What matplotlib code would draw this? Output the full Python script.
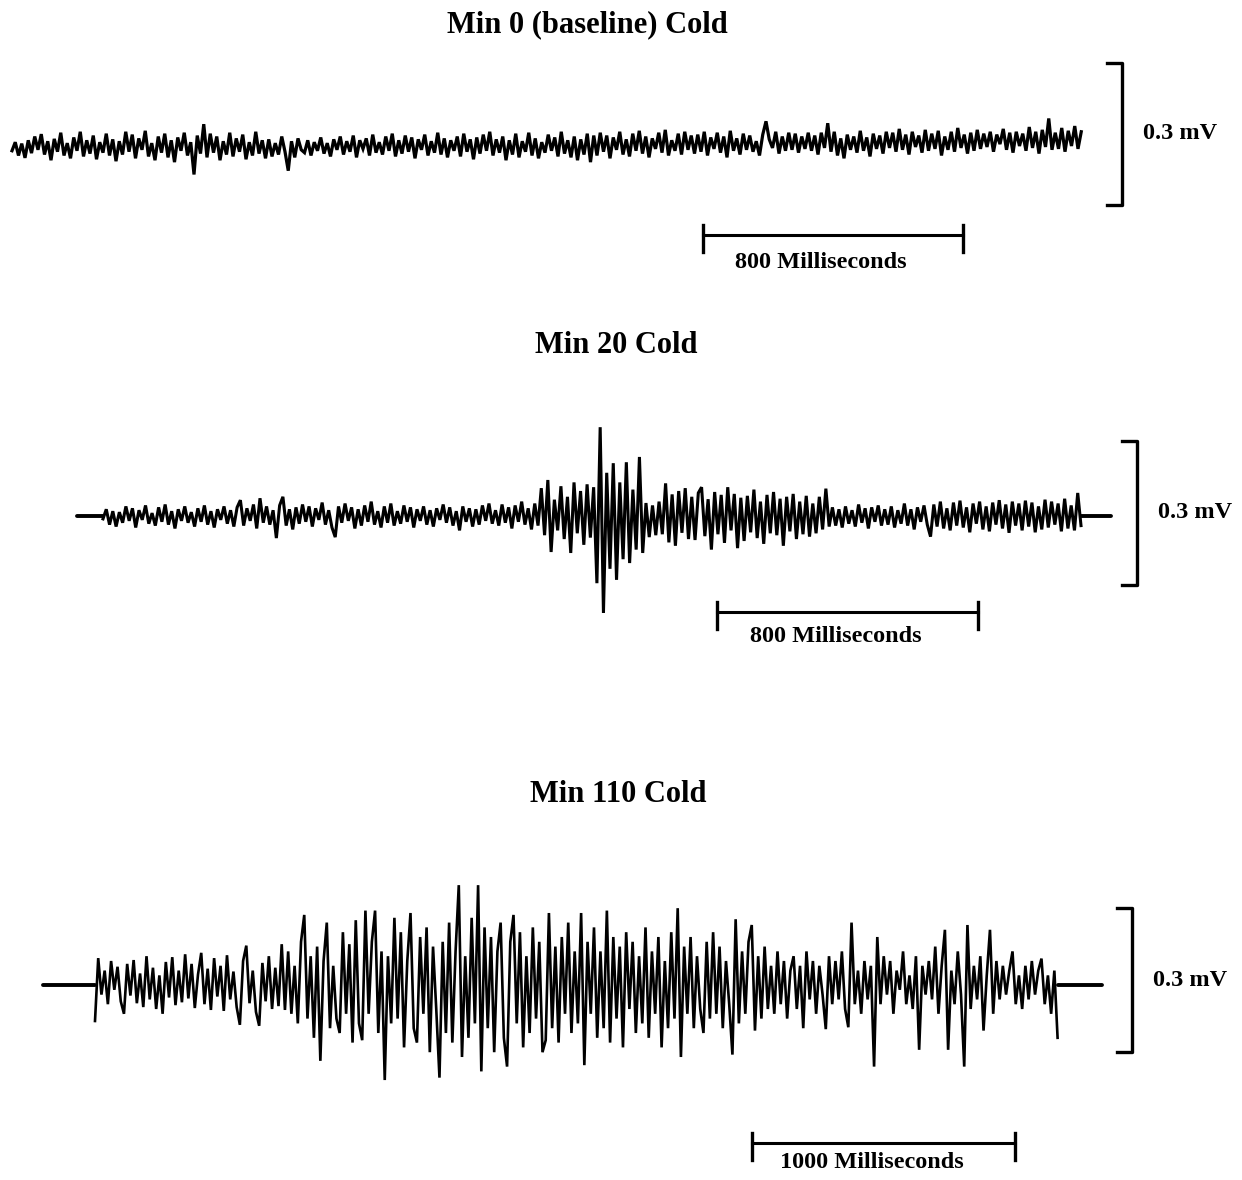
import matplotlib.pyplot as plt
import numpy as np

plt.rcParams['font.family'] = ['Liberation Serif', 'DejaVu Serif']
plt.rcParams['font.weight'] = 'bold'

W, H = 1242, 1180

titles = ['Min 0 (baseline) Cold', 'Min 20 Cold', 'Min 110 Cold']
time_bar_ms = [800, 800, 1000]
volt_bar_mv = 0.3
trace_ms = [3290, 3000, 3660]     # length of recorded sweep
lead_in_ms = [0, 80, 198]         # flat line before the sweep
lead_out_ms = [0, 92, 167]        # flat line after the sweep

# EMG amplitude, microvolts
cold_min0 = [
    -10, 8, -20, 5, -25, 12, -15, 20, -8, 25, -18, 10, -30, 15, -12, 28, -20, 6, -26, 18, -10, 30, -22, 12, -16, 22, -28, 8, -14, 26,
    -20, 14, -32, 10, -18, 30, -12, 24, -26, 16, -8, 32, -22, 6, -30, 20, -14, 26, -24, 12, -34, 18, -10, 28, -20, 8, -60, 22, -16, 46,
    -24, 26, -14, 20, -30, 10, -18, 28, -22, 16, -12, 24, -28, 8, -20, 30, -16, 12, -26, 14, -22, 6, -18, 20, -12, -52, 10, -24, 16, -8,
    -14, 12, -20, 8, -10, 18, -16, 6, -22, 14, -8, 20, -18, 10, -12, 22, -24, 12, -6, 16, -20, 24, -14, 8, -18, 20, -10, 26, -22, 12,
    -16, 22, -12, 18, -26, 14, -8, 24, -20, 10, -14, 28, -18, 16, -24, 12, -10, 20, -22, 26, -12, 14, -28, 18, -16, 24, -10, 30, -20, 14,
    -14, 20, -30, 12, -18, 26, -24, 10, -12, 28, -20, 16, -26, 8, -14, 24, -10, 18, -22, 30, -16, 12, -24, 20, -30, 14, -18, 26, -34, 22,
    -20, 28, -12, 22, -26, 18, -8, 30, -18, 14, -22, 26, -10, 32, -16, 20, -24, 16, -6, 28, -14, 34, -20, 12, -10, 26, -18, 30, -8, 22,
    -16, 24, -12, 30, -20, 18, -6, 28, -14, 20, -24, 32, -10, 16, -18, 26, -8, 22, -12, 10, -20, 24, 52, 14, -4, 30, -16, 20, -10, 28,
    -8, 26, -14, 20, -6, 28, -10, 22, -18, 28, -4, 48, -12, 30, -20, 16, -26, 24, -8, 20, -14, 32, -10, 18, -22, 26, -6, 22, -16, 30,
    -4, 28, -12, 36, -8, 24, -18, 30, -2, 22, -14, 34, -10, 26, -6, 32, -20, 20, -8, 30, -12, 38, -4, 24, -16, 28, -10, 34, -6, 26,
    -2, 30, -12, 24, 4, 36, -8, 28, -14, 30, 0, 26, -10, 40, -4, 30, -16, 34, -2, 58, -8, 28, -6, 38, -12, 32, 0, 42, -6, 30,
]

cold_min20 = [
    -6, 14, -18, 10, -22, 8, -14, 20, -10, 16, -24, 12, -8, 22, -16, 6, -20, 18, -12, 24, -18, 10, -26, 14, -10, 20, -14, 8, -22, 16,
    -12, 22, -18, 10, -24, 14, -8, 20, -16, 12, -22, 18, 33, -20, 16, -10, 24, -26, 37, -14, 20, -18, 12, -46, 22, 40, -20, 14, -28, 18,
    -16, 24, -12, 20, -22, 16, -8, 28, -18, 12, -24, -44, 20, -14, 26, -10, 18, -26, 14, -20, 22, -12, 30, -18, 10, -24, 20, -14, 26, -20,
    10, -16, 22, -12, 18, -24, 14, -10, 20, -18, 12, -22, 16, -8, 24, -14, 18, -20, 10, -30, 20, -12, 16, -22, 14, -18, 22, -10, 26, -16,
    12, -20, 24, -14, 18, -26, 22, -12, 30, -18, 16, -28, 26, -20, 58, -40, 75, -75, 34, -30, 62, -48, 40, -77, 70, -36, 52, -60, 66, -45,
    60, -140, 185, -202, 90, -110, 110, -133, 70, -90, 112, -98, 55, -70, 123, -77, 27, -44, 22, -40, 30, -38, 68, -55, 45, -62, 52, -35, 58, -48,
    40, -50, 48, 60, -42, 35, -70, 50, -38, 44, -56, 60, -30, 46, -67, 38, -52, 42, -34, 55, -46, 30, -58, 44, -36, 50, -40, 36, -62, 40,
    -32, 46, -48, 30, -38, 42, -43, 26, -36, 40, -28, 57, -22, 18, -20, 14, -24, 20, -16, 12, -22, 24, -14, 16, -26, 18, -12, 22, -20, 14,
    -18, 20, -24, 12, -16, 26, -20, 14, -28, 18, -12, 22, -18, -43, 24, -22, 30, -26, 16, -30, 28, -20, 32, -24, 18, -34, 26, -16, 30, -28,
    20, -32, 28, -18, 33, -26, 24, -35, 30, -20, 26, -30, 32, -22, 28, -34, 20, -28, 34, -24, 30, -18, 26, -32, 36, -26, 22, -30, 48, -20,
]

cold_min110 = [
    -75, 56, -20, 30, -40, 50, -10, 38, -34, -60, 44, -22, 52, -38, 24, -46, 60, -30, 36, -50, 20, -60, 48, -26, 58, -42, 30, -36, 64, -28,
    44, -48, 22, 67, -40, 34, -52, 56, -24, 40, -54, 62, -30, 28, -46, -83, 50, 82, -38, 30, -56, -85, 46, -34, 60, -50, 36, -44, 85, -52,
    70, -60, 40, -80, 90, 146, -70, 60, -110, 80, -158, 50, 130, -90, 40, -70, -100, 110, -60, 85, -120, 135, -80, -115, 155, -60, 90, 155, -100, 70,
    -198, 60, -80, 140, -70, 110, -130, 50, 150, -90, -120, 100, -60, 120, -140, 80, -50, -193, 90, -100, 130, -120, 70, 208, -150, 60, -110, 140, -80, 208,
    -180, 120, -90, 100, -140, 70, 130, -110, -170, 90, 146, -80, 110, -130, 60, -100, 120, -70, 90, -140, -115, 150, -90, 80, -120, 100, -60, 130, -100, 70,
    -80, 150, -167, 90, -60, 120, -110, 70, -90, 155, -120, 100, -70, 80, -130, 110, -50, 90, -100, 60, -80, 120, -110, 70, -60, 100, -130, 50, -90, 110,
    -70, 160, -150, 80, -60, 100, -90, 60, -50, -100, 90, -70, 110, -60, 80, -90, 50, -40, -145, 137, -80, 70, -60, 90, 125, -95, 60, -70, 80, -50,
    40, -60, 70, -40, 50, -70, 30, 60, -50, 40, -90, 70, -30, 50, -60, 40, -20, -92, 60, -40, 50, -30, 70, -50, -88, 130, -40, 30, -60, 50,
    -30, 40, -170, 100, -40, 60, -20, 50, -60, 30, -10, 70, -40, 20, -50, 60, -135, 40, -20, 50, -30, 80, -60, 40, 115, -135, 30, -40, 70, -20,
    -170, 125, -50, 40, -30, 60, -95, 20, 115, -60, 50, -30, 40, -20, 30, 70, -40, 20, -50, 40, -30, 50, -20, 30, 55, -40, 20, -60, 30, -110,
]

traces = [cold_min0, cold_min20, cold_min110]

# page layout in pixels: sweep start x, baseline y, px per ms, px per mV
panels = [
    dict(band=(0, 300), x0=12, y0=146, pxms=0.325, pxmv=475, title=(587, 25),
         tbar=(703, 235), vbar=(1122, 205), lw=2.3, lab_dy=27),
    dict(band=(300, 700), x0=103, y0=516, pxms=0.326, pxmv=480, title=(616, 346),
         tbar=(717, 612), vbar=(1137, 585), lw=2.2, lab_dy=25),
    dict(band=(700, 1180), x0=95, y0=985, pxms=0.263, pxmv=480, title=(618, 794),
         tbar=(752, 1143), vbar=(1132, 1052), lw=1.9, lab_dy=20),
]

fig = plt.figure(figsize=(W / 100, H / 100), dpi=100)

for k, p in enumerate(panels):
    top, bot = p['band']
    ax = fig.add_axes([0, 1 - bot / H, 1, (bot - top) / H])
    ax.set_xlim(-p['x0'] / p['pxms'], (W - p['x0']) / p['pxms'])
    ax.set_ylim(-(bot - p['y0']) / p['pxmv'], (p['y0'] - top) / p['pxmv'])
    ax.axis('off')

    def to_data(px, py):
        return (px - p['x0']) / p['pxms'], (p['y0'] - py) / p['pxmv']

    vals = np.array(traces[k]) / 1000.0
    t = np.linspace(0, trace_ms[k], len(vals))
    ax.plot(t, vals, color='black', lw=p['lw'], solid_joinstyle='miter')
    if lead_in_ms[k]:
        ax.plot([-lead_in_ms[k], 0], [0, 0], color='black', lw=2.8, solid_capstyle='round')
    if lead_out_ms[k]:
        ax.plot([trace_ms[k], trace_ms[k] + lead_out_ms[k]], [0, 0], color='black', lw=2.8,
                solid_capstyle='round')

    # time scale bar
    tx, ty = to_data(*p['tbar'])
    dy_up, dy_dn = 10 / p['pxmv'], 17 / p['pxmv']
    ax.plot([tx, tx + time_bar_ms[k]], [ty, ty], color='black', lw=2.2)
    for xx in (tx, tx + time_bar_ms[k]):
        ax.plot([xx, xx], [ty + dy_up, ty - dy_dn], color='black', lw=2.4)
    ax.text(tx + time_bar_ms[k] / 2 - 12 / p['pxms'], ty - p['lab_dy'] / p['pxmv'],
            f'{time_bar_ms[k]} Milliseconds',
            ha='center', va='center', fontsize=17.5, fontweight='bold')

    # voltage scale bar
    vx, vy = to_data(*p['vbar'])
    foot = 15 / p['pxms']
    ax.plot([vx - foot, vx, vx, vx - foot], [vy, vy, vy + volt_bar_mv, vy + volt_bar_mv],
            color='black', lw=2.4)
    ax.text(vx + 21 / p['pxms'], vy + volt_bar_mv / 2, f'{volt_bar_mv} mV',
            ha='left', va='center', fontsize=17.5, fontweight='bold')

    fig.text(p['title'][0] / W, 1 - p['title'][1] / H, titles[k],
             ha='center', va='center', fontsize=22, fontweight='bold')

fig.savefig('out.png', dpi=100, facecolor='white')
